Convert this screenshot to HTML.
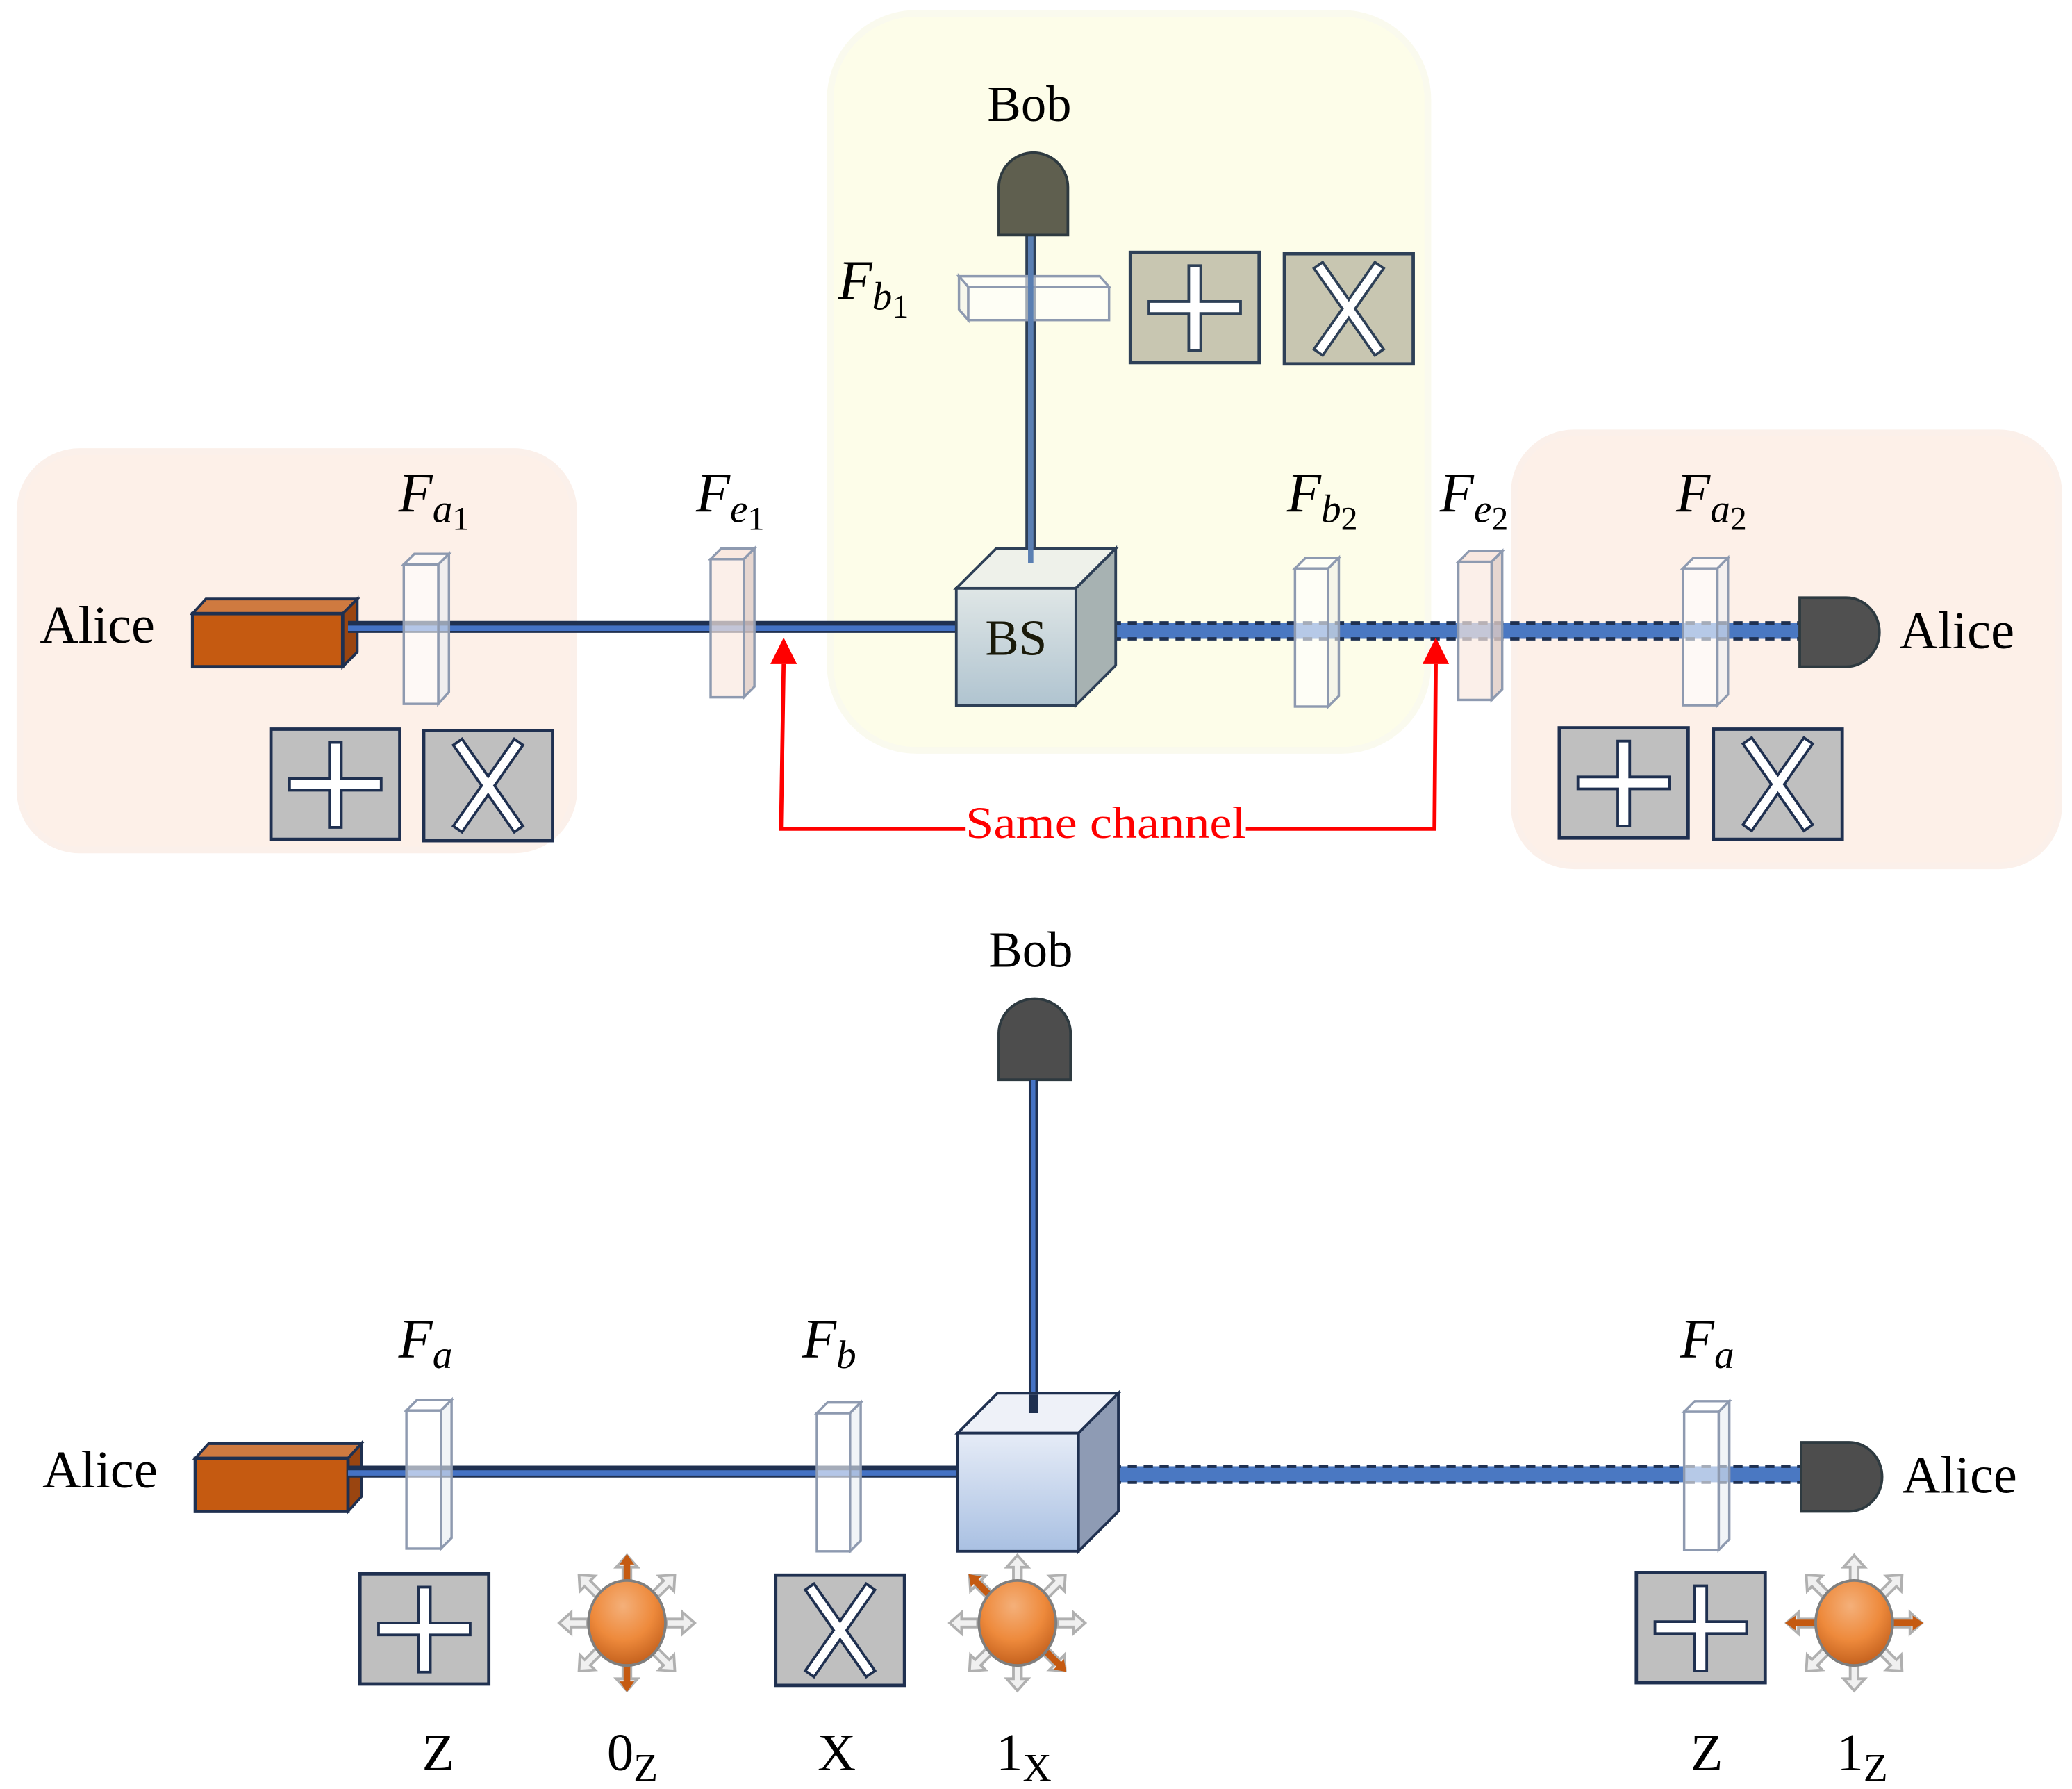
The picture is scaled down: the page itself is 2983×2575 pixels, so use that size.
<!DOCTYPE html>
<html><head><meta charset="utf-8"><style>html,body{margin:0;padding:0;background:#fff}svg{display:block}</style></head>
<body>
<svg width="2983" height="2575" viewBox="0 0 1560 1347" preserveAspectRatio="none" xmlns="http://www.w3.org/2000/svg" font-family="'Liberation Serif', serif">
<defs>
<linearGradient id="bs" x1="0" y1="0" x2="0" y2="1"><stop offset="0" stop-color="#dfe6e6"/><stop offset="1" stop-color="#b0c4d0"/></linearGradient>
<linearGradient id="cube2" x1="0" y1="0" x2="0" y2="1"><stop offset="0" stop-color="#e6ecf7"/><stop offset="1" stop-color="#a9c0e2"/></linearGradient>
<radialGradient id="orb" cx="0.45" cy="0.3" r="0.8"><stop offset="0" stop-color="#f4b07a"/><stop offset="0.5" stop-color="#ee8a3c"/><stop offset="1" stop-color="#b75414"/></radialGradient>
<g id="plus">
<rect x="0" y="0" width="97" height="83" fill="#bfbfbf" stroke="#1f3050" stroke-width="2.5"/>
<path d="M44,10 h9 v27 h30 v9 h-30 v28 h-9 v-28 h-30 v-9 h30 z" fill="#fff" stroke="#1f3050" stroke-width="2"/>
</g>
<g id="cross">
<rect x="0" y="0" width="97" height="83" fill="#bfbfbf" stroke="#1f3050" stroke-width="2.5"/>
<g transform="translate(48.5,41.5)">
<rect x="-4" y="-40" width="8" height="80" fill="#fff" stroke="#1f3050" stroke-width="2" transform="rotate(35)"/>
<rect x="-4" y="-40" width="8" height="80" fill="#fff" stroke="#1f3050" stroke-width="2" transform="rotate(-35)"/>
<rect x="-3" y="-38" width="6" height="76" fill="#fff" transform="rotate(35)"/>
</g>
</g>
<g id="arr"><path d="M30,-3 h12 v-5 l9,8 -9,8 v-5 h-12 z" fill="#f0f0f0" stroke="#b0b0b0" stroke-width="2"/></g>
<g id="sun">
<use href="#arr"/><use href="#arr" transform="rotate(45)"/><use href="#arr" transform="rotate(90)"/><use href="#arr" transform="rotate(135)"/>
<use href="#arr" transform="rotate(180)"/><use href="#arr" transform="rotate(225)"/><use href="#arr" transform="rotate(270)"/><use href="#arr" transform="rotate(315)"/>
</g>
<g id="oarr"><path d="M28,-2.5 h16 v-3 l8,5.5 -8,5.5 v-3 h-16 z" fill="#c55a11"/></g>
<g id="orbshape"><ellipse cx="0" cy="0" rx="29" ry="32" fill="url(#orb)" stroke="#7f7f7f" stroke-width="2"/></g>
</defs>

<!-- Background regions -->
<rect x="15" y="340" width="417" height="300" rx="45" fill="#fdf0e8" stroke="#fbf0ea" stroke-width="5"/>
<rect x="625" y="10" width="450" height="555" rx="65" fill="#fdfde9" stroke="#fafaee" stroke-width="5"/>
<rect x="1140" y="326" width="410" height="326" rx="45" fill="#fdf0e8" stroke="#fbf0ea" stroke-width="5"/>

<!-- TOP -->
<text x="30" y="484" font-size="40">Alice</text>
<polygon points="145,462 155,451 269,451 258,462" fill="#cf7a40" stroke="#1f3050" stroke-width="2"/>
<polygon points="258,462 269,451 269,491 258,502" fill="#9a4510" stroke="#1f3050" stroke-width="2"/>
<rect x="145" y="462" width="113" height="40" fill="#c55a11" stroke="#1f3050" stroke-width="2.5"/>
<line x1="262" y1="472" x2="722" y2="472" stroke="#1f3050" stroke-width="9"/>
<line x1="262" y1="473" x2="722" y2="473" stroke="#4472c4" stroke-width="4"/>
<line x1="776" y1="178" x2="776" y2="426" stroke="#2e4057" stroke-width="8" stroke-linecap="round"/>
<line x1="776" y1="178" x2="776" y2="424" stroke="#5a7fb2" stroke-width="4"/>
<rect x="825" y="469" width="530" height="12" fill="#4a78c2"/>
<line x1="825" y1="469" x2="1355" y2="469" stroke="#1f3050" stroke-width="2.5" stroke-dasharray="7,5"/>
<line x1="825" y1="481" x2="1355" y2="481" stroke="#1f3050" stroke-width="2.5" stroke-dasharray="7,5"/>

<g stroke="#8e9ab0" stroke-width="1.8">
<polygon points="304,425 312,417 338,417 330,425" fill="#fff" fill-opacity="0.6"/>
<polygon points="330,425 338,417 338,521 330,530" fill="#e8ecf2" fill-opacity="0.6"/>
<rect x="304" y="425" width="26" height="105" fill="#fff" fill-opacity="0.6"/>
<polygon points="535,421 543,413 568,413 560,421" fill="#f8e2d8" fill-opacity="0.8"/>
<polygon points="560,421 568,413 568,517 560,525" fill="#e0ccc4" fill-opacity="0.8"/>
<rect x="535" y="421" width="25" height="104" fill="#fae8e0" fill-opacity="0.7"/>
<polygon points="975,428 983,420 1008,420 1000,428" fill="#fff" fill-opacity="0.6"/>
<polygon points="1000,428 1008,420 1008,524 1000,532" fill="#f0f0ea" fill-opacity="0.6"/>
<rect x="975" y="428" width="25" height="104" fill="#fff" fill-opacity="0.6"/>
<polygon points="1098,423 1106,415 1131,415 1123,423" fill="#f8e2d8" fill-opacity="0.8"/>
<polygon points="1123,423 1131,415 1131,519 1123,527" fill="#e0ccc4" fill-opacity="0.8"/>
<rect x="1098" y="423" width="25" height="104" fill="#fae8e0" fill-opacity="0.7"/>
<polygon points="1267,428 1275,420 1301,420 1293,428" fill="#fff" fill-opacity="0.6"/>
<polygon points="1293,428 1301,420 1301,523 1293,531" fill="#eef0f4" fill-opacity="0.6"/>
<rect x="1267" y="428" width="26" height="103" fill="#fff" fill-opacity="0.6"/>
<polygon points="722,208 828,208 835,216 729,216" fill="#fff" fill-opacity="0.6"/>
<polygon points="722,208 729,216 729,241 722,233" fill="#f4f4ee" fill-opacity="0.6"/>
<rect x="729" y="216" width="106" height="25" fill="#fff" fill-opacity="0.55"/>
</g>

<polygon points="720,443 750,413 840,413 810,443" fill="#eef1ea" stroke="#2e4057" stroke-width="2"/>
<polygon points="810,443 840,413 840,501 810,531" fill="#a7b2b2" stroke="#2e4057" stroke-width="2"/>
<rect x="720" y="443" width="90" height="88" fill="url(#bs)" stroke="#2e4057" stroke-width="2"/>
<line x1="776" y1="178" x2="776" y2="424" stroke="#5a7fb2" stroke-width="4"/>
<text x="765" y="493" font-size="38" text-anchor="middle" fill="#1a1a0a">BS</text>

<path d="M752,177 V141 A26,26 0 0 1 804,141 V177 Z" fill="#5f5f4f" stroke="#2e3a40" stroke-width="2"/>
<text x="775" y="91" font-size="38" text-anchor="middle">Bob</text>

<path d="M1355,450 H1390 A25,26 0 0 1 1390,502 H1355 Z" fill="#505050" stroke="#2e3a40" stroke-width="2"/>
<text x="1430" y="488" font-size="40">Alice</text>

<use href="#plus" x="204" y="549"/>
<use href="#cross" x="319" y="550"/>
<g transform="translate(851,190)"><rect width="97" height="83" fill="#c8c6b1" stroke="#2e4057" stroke-width="2.5"/><path d="M44,10 h9 v27 h30 v9 h-30 v28 h-9 v-28 h-30 v-9 h30 z" fill="#fff" stroke="#2e4057" stroke-width="2"/></g>
<g transform="translate(967,191)"><rect width="97" height="83" fill="#c8c6b1" stroke="#2e4057" stroke-width="2.5"/><g transform="translate(48.5,41.5)"><rect x="-4" y="-40" width="8" height="80" fill="#fff" stroke="#2e4057" stroke-width="2" transform="rotate(35)"/><rect x="-4" y="-40" width="8" height="80" fill="#fff" stroke="#2e4057" stroke-width="2" transform="rotate(-35)"/><rect x="-3" y="-38" width="6" height="76" fill="#fff" transform="rotate(35)"/></g></g>
<use href="#plus" x="1174" y="548"/>
<use href="#cross" x="1290" y="549"/>

<polyline points="590,500 588,624 727,624" fill="none" stroke="#ff0000" stroke-width="3"/>
<polyline points="938,624 1080,624 1081,500" fill="none" stroke="#ff0000" stroke-width="3"/>
<polygon points="580,500 600,500 590,480" fill="#ff0000"/>
<polygon points="1071,500 1091,500 1081,480" fill="#ff0000"/>
<text x="727" y="631" font-size="34" textLength="211" lengthAdjust="spacingAndGlyphs" fill="#ff0000">Same channel</text>

<g font-style="italic" font-size="42">
<text x="300" y="385">F<tspan font-size="30" dy="8">a</tspan><tspan font-size="25" font-style="normal" dy="6">1</tspan></text>
<text x="524" y="385">F<tspan font-size="30" dy="8">e</tspan><tspan font-size="25" font-style="normal" dy="6">1</tspan></text>
<text x="631" y="225">F<tspan font-size="30" dy="8">b</tspan><tspan font-size="25" font-style="normal" dy="6">1</tspan></text>
<text x="969" y="385">F<tspan font-size="30" dy="8">b</tspan><tspan font-size="25" font-style="normal" dy="6">2</tspan></text>
<text x="1084" y="385">F<tspan font-size="30" dy="8">e</tspan><tspan font-size="25" font-style="normal" dy="6">2</tspan></text>
<text x="1262" y="385">F<tspan font-size="30" dy="8">a</tspan><tspan font-size="25" font-style="normal" dy="6">2</tspan></text>
</g>

<!-- BOTTOM -->
<text x="776" y="728" font-size="38" text-anchor="middle">Bob</text>
<path d="M752,813 V778 A27,26 0 0 1 806,778 V813 Z" fill="#4d4d4d" stroke="#2e3a40" stroke-width="2"/>
<line x1="778" y1="813" x2="778" y2="1064" stroke="#1f3050" stroke-width="7"/>
<line x1="778" y1="813" x2="778" y2="1062" stroke="#4472c4" stroke-width="3"/>

<text x="32" y="1120" font-size="40">Alice</text>
<polygon points="147,1098 157,1087 272,1087 262,1098" fill="#cf7a40" stroke="#1f3050" stroke-width="2"/>
<polygon points="262,1098 272,1087 272,1127 262,1138" fill="#9a4510" stroke="#1f3050" stroke-width="2"/>
<rect x="147" y="1098" width="115" height="40" fill="#c55a11" stroke="#1f3050" stroke-width="2.5"/>
<line x1="262" y1="1108" x2="722" y2="1108" stroke="#1f3050" stroke-width="9"/>
<line x1="262" y1="1109" x2="722" y2="1109" stroke="#4472c4" stroke-width="4"/>

<rect x="825" y="1104" width="530" height="12" fill="#4a78c2"/>
<line x1="825" y1="1104" x2="1355" y2="1104" stroke="#1f3050" stroke-width="2.5" stroke-dasharray="7,5"/>
<line x1="825" y1="1116" x2="1355" y2="1116" stroke="#1f3050" stroke-width="2.5" stroke-dasharray="7,5"/>

<g stroke="#8e9ab0" stroke-width="1.8">
<polygon points="306,1062 314,1054 340,1054 332,1062" fill="#fff" fill-opacity="0.6"/>
<polygon points="332,1062 340,1054 340,1158 332,1166" fill="#e8ecf2" fill-opacity="0.6"/>
<rect x="306" y="1062" width="26" height="104" fill="#fff" fill-opacity="0.6"/>
<polygon points="615,1064 623,1056 648,1056 640,1064" fill="#fff" fill-opacity="0.6"/>
<polygon points="640,1064 648,1056 648,1160 640,1168" fill="#e8ecf2" fill-opacity="0.6"/>
<rect x="615" y="1064" width="25" height="104" fill="#fff" fill-opacity="0.6"/>
<polygon points="1268,1063 1276,1055 1302,1055 1294,1063" fill="#fff" fill-opacity="0.6"/>
<polygon points="1294,1063 1302,1055 1302,1159 1294,1167" fill="#e8ecf2" fill-opacity="0.6"/>
<rect x="1268" y="1063" width="26" height="104" fill="#fff" fill-opacity="0.6"/>
</g>

<polygon points="721,1079 751,1049 842,1049 812,1079" fill="#eef1f8" stroke="#1f3050" stroke-width="2"/>
<polygon points="812,1079 842,1049 842,1138 812,1168" fill="#8e9bb4" stroke="#1f3050" stroke-width="2"/>
<rect x="721" y="1079" width="91" height="89" fill="url(#cube2)" stroke="#1f3050" stroke-width="2"/>
<line x1="778" y1="1050" x2="778" y2="1064" stroke="#1f3050" stroke-width="7"/>

<path d="M1356,1086 H1392 A25,26 0 0 1 1392,1138 H1356 Z" fill="#4d4d4d" stroke="#2e3a40" stroke-width="2"/>
<text x="1432" y="1124" font-size="40">Alice</text>

<use href="#plus" x="271" y="1185"/>
<use href="#cross" x="584" y="1186"/>
<use href="#plus" x="1232" y="1184"/>

<g transform="translate(472,1222)"><use href="#sun"/><use href="#oarr" transform="rotate(-90)"/><use href="#oarr" transform="rotate(90)"/><use href="#orbshape"/></g>
<g transform="translate(766,1222)"><use href="#sun"/><use href="#oarr" transform="rotate(45)"/><use href="#oarr" transform="rotate(225)"/><use href="#orbshape"/></g>
<g transform="translate(1396,1222)"><use href="#sun"/><use href="#oarr"/><use href="#oarr" transform="rotate(180)"/><use href="#orbshape"/></g>

<g font-style="italic" font-size="42">
<text x="300" y="1022">F<tspan font-size="30" dy="8">a</tspan></text>
<text x="604" y="1022">F<tspan font-size="30" dy="8">b</tspan></text>
<text x="1265" y="1022">F<tspan font-size="30" dy="8">a</tspan></text>
</g>

<g font-size="40">
<text x="330" y="1333" text-anchor="middle">Z</text>
<text x="457" y="1333">0<tspan font-size="30" dy="8">Z</tspan></text>
<text x="630" y="1333" text-anchor="middle">X</text>
<text x="750" y="1333">1<tspan font-size="30" dy="8">X</tspan></text>
<text x="1285" y="1333" text-anchor="middle">Z</text>
<text x="1383" y="1333">1<tspan font-size="30" dy="8">Z</tspan></text>
</g>
</svg>
</body></html>
